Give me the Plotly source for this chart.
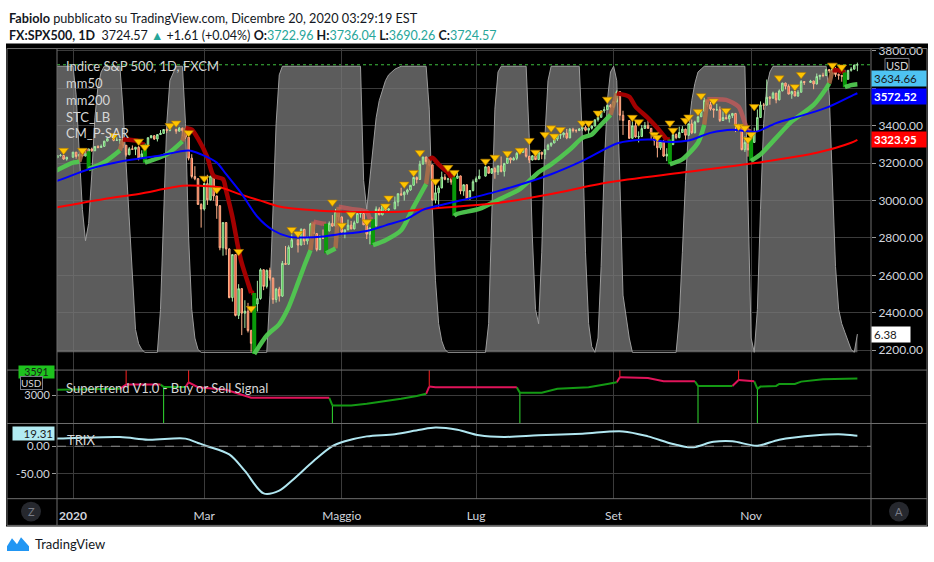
import pandas as pd
import plotly.graph_objects as go

W, H = 934, 562
def px(x): return x / W
def py(y): return 1 - y / H

# ---------------- DATA ----------------
HOLIDAYS = ["2020-01-01", "2020-01-20", "2020-02-17", "2020-04-10", "2020-05-25",
            "2020-07-03", "2020-09-07", "2020-11-26"]
dates = [d for d in pd.bdate_range("2019-12-26", "2020-12-18")
         if d.strftime("%Y-%m-%d") not in HOLIDAYS]

open_ = [3228, 3240, 3240, 3221,
 3231, 3258, 3235, 3246, 3237, 3253, 3275, 3265, 3288, 3283, 3289, 3317, 3330, 3321, 3322, 3326, 3295, 3244, 3276, 3273, 3284,
 3226, 3249, 3298, 3335, 3346, 3328, 3352, 3358, 3379, 3374, 3380, 3370, 3386, 3373, 3338, 3226, 3128, 3116, 2979,
 2954, 3090, 3003, 3130, 3024, 2972, 2747, 2882, 2741, 2481, 2711, 2386, 2529, 2398, 2409, 2305, 2237, 2447, 2476, 2630, 2541, 2627,
 2585, 2471, 2527, 2489, 2664, 2659, 2750, 2790, 2762, 2846, 2783, 2800, 2875, 2823, 2737, 2799, 2798, 2837, 2878, 2863, 2940,
 2912, 2831, 2843, 2868, 2848, 2881, 2930, 2930, 2870, 2820, 2853, 2864, 2954, 2923, 2972, 2949, 2955, 2992, 3036, 3030,
 3044, 3056, 3081, 3123, 3112, 3194, 3232, 3207, 3190, 3002, 3041, 3067, 3125, 3113, 3115, 3098, 3118, 3131, 3050, 3084, 3009, 3053,
 3100, 3116, 3130, 3180, 3145, 3170, 3152, 3185, 3155, 3198, 3227, 3216, 3225, 3252, 3257, 3276, 3236, 3216, 3239, 3218, 3258, 3246,
 3271, 3295, 3307, 3328, 3349, 3351, 3360, 3334, 3380, 3373, 3373, 3382, 3390, 3375, 3386, 3397, 3431, 3444, 3479, 3485, 3508,
 3500, 3527, 3581, 3455, 3427, 3332, 3399, 3339, 3341, 3384, 3401, 3385, 3357, 3319, 3281, 3316, 3237, 3247, 3298, 3352, 3335,
 3363, 3381, 3348, 3409, 3361, 3419, 3447, 3477, 3534, 3512, 3489, 3483, 3484, 3427, 3443, 3436, 3453, 3465, 3401, 3391, 3271, 3310,
 3270, 3310, 3369, 3443, 3510, 3509, 3551, 3546, 3573, 3537, 3585, 3627, 3610, 3568, 3582, 3558, 3578, 3635, 3630, 3638,
 3622, 3662, 3669, 3667, 3699, 3692, 3702, 3673, 3668, 3663, 3647, 3695, 3701, 3722.96]

high = [3241, 3248, 3241, 3232,
 3259, 3258, 3247, 3248, 3267, 3276, 3282, 3289, 3295, 3299, 3317, 3330, 3331, 3337, 3327, 3337, 3296, 3285, 3294, 3286, 3290,
 3268, 3306, 3337, 3348, 3347, 3353, 3376, 3381, 3385, 3381, 3382, 3393, 3389, 3374, 3339, 3247, 3183, 3120, 2985,
 3091, 3137, 3131, 3132, 3026, 2975, 2882, 2885, 2745, 2711, 2714, 2553, 2532, 2467, 2453, 2310, 2449, 2571, 2638, 2632, 2631, 2641,
 2588, 2533, 2539, 2677, 2757, 2760, 2819, 2792, 2851, 2848, 2807, 2880, 2877, 2825, 2815, 2845, 2842, 2888, 2922, 2955, 2942,
 2914, 2844, 2898, 2891, 2892, 2933, 2945, 2945, 2875, 2855, 2865, 2968, 2964, 2981, 2978, 2957, 3021, 3037, 3068, 3049,
 3063, 3081, 3131, 3128, 3212, 3233, 3234, 3223, 3192, 3089, 3079, 3154, 3141, 3121, 3155, 3121, 3155, 3133, 3086, 3086, 3054, 3112,
 3128, 3165, 3183, 3184, 3171, 3180, 3186, 3235, 3199, 3238, 3228, 3233, 3258, 3278, 3280, 3281, 3238, 3242, 3243, 3264, 3259, 3272,
 3303, 3307, 3331, 3351, 3353, 3364, 3382, 3387, 3388, 3381, 3387, 3395, 3399, 3390, 3400, 3432, 3444, 3481, 3501, 3510, 3514,
 3528, 3588, 3583, 3479, 3430, 3425, 3426, 3369, 3403, 3419, 3428, 3387, 3362, 3320, 3321, 3324, 3279, 3306, 3361, 3358, 3394,
 3397, 3383, 3410, 3432, 3426, 3448, 3482, 3549, 3536, 3527, 3490, 3516, 3502, 3476, 3465, 3461, 3466, 3467, 3409, 3393, 3342, 3311,
 3330, 3389, 3486, 3529, 3521, 3646, 3558, 3581, 3575, 3593, 3628, 3629, 3620, 3586, 3584, 3589, 3643, 3638, 3644, 3640,
 3678, 3670, 3682, 3701, 3700, 3709, 3712, 3678, 3670, 3698, 3695, 3712, 3725, 3736.04]

low = [3227, 3234, 3217, 3213,
 3229, 3223, 3214, 3232, 3236, 3252, 3260, 3264, 3278, 3281, 3288, 3316, 3316, 3320, 3302, 3281, 3234, 3242, 3271, 3242, 3214,
 3222, 3248, 3297, 3332, 3323, 3315, 3350, 3357, 3361, 3369, 3356, 3369, 3342, 3329, 3214, 3118, 3108, 2977, 2855,
 2946, 2976, 3000, 2999, 2902, 2734, 2705, 2708, 2478, 2460, 2381, 2367, 2281, 2319, 2295, 2192, 2233, 2407, 2470, 2521, 2530, 2572,
 2448, 2455, 2460, 2485, 2657, 2655, 2748, 2722, 2760, 2762, 2765, 2798, 2821, 2728, 2735, 2795, 2794, 2835, 2860, 2861, 2892,
 2821, 2798, 2841, 2846, 2846, 2879, 2908, 2869, 2794, 2766, 2822, 2862, 2922, 2921, 2938, 2934, 2953, 2969, 3024, 2999,
 3031, 3052, 3080, 3091, 3110, 3192, 3193, 3181, 2999, 2984, 2966, 3065, 3108, 3094, 3084, 3081, 3116, 3033, 3025, 3005, 3003, 3048,
 3098, 3114, 3128, 3143, 3142, 3116, 3136, 3150, 3128, 3196, 3198, 3214, 3215, 3250, 3254, 3229, 3200, 3213, 3216, 3216, 3220, 3220,
 3270, 3286, 3306, 3318, 3329, 3336, 3327, 3333, 3363, 3362, 3371, 3370, 3369, 3354, 3379, 3396, 3421, 3443, 3468, 3484, 3494,
 3494, 3525, 3427, 3350, 3329, 3330, 3335, 3310, 3340, 3383, 3384, 3328, 3293, 3230, 3270, 3232, 3210, 3228, 3296, 3327, 3333,
 3362, 3324, 3346, 3354, 3359, 3418, 3446, 3476, 3500, 3480, 3442, 3482, 3419, 3425, 3433, 3416, 3440, 3365, 3388, 3268, 3259, 3234,
 3268, 3308, 3367, 3441, 3484, 3507, 3511, 3545, 3519, 3535, 3583, 3593, 3567, 3543, 3556, 3553, 3576, 3617, 3628, 3594,
 3620, 3645, 3658, 3665, 3680, 3678, 3660, 3645, 3634, 3645, 3645, 3688, 3700, 3690.26]

close = [3240, 3240, 3221, 3231,
 3258, 3235, 3246, 3237, 3253, 3275, 3265, 3288, 3283, 3289, 3317, 3330, 3321, 3322, 3326, 3295, 3244, 3276, 3273, 3284, 3226,
 3249, 3298, 3335, 3346, 3328, 3352, 3358, 3379, 3374, 3380, 3370, 3386, 3373, 3338, 3226, 3128, 3116, 2979, 2954,
 3090, 3003, 3130, 3024, 2972, 2747, 2882, 2741, 2481, 2711, 2386, 2529, 2398, 2409, 2305, 2237, 2447, 2476, 2630, 2541, 2627, 2585,
 2471, 2527, 2489, 2664, 2659, 2750, 2790, 2762, 2846, 2783, 2800, 2875, 2823, 2737, 2799, 2798, 2837, 2878, 2863, 2940, 2912,
 2831, 2843, 2868, 2848, 2881, 2930, 2930, 2870, 2820, 2853, 2864, 2954, 2923, 2972, 2949, 2955, 2992, 3036, 3030, 3044,
 3056, 3081, 3123, 3112, 3194, 3232, 3207, 3190, 3002, 3041, 3067, 3125, 3113, 3115, 3098, 3118, 3131, 3050, 3084, 3009, 3053, 3100,
 3116, 3130, 3180, 3145, 3170, 3152, 3185, 3155, 3198, 3227, 3216, 3225, 3252, 3257, 3276, 3236, 3216, 3239, 3218, 3258, 3246, 3271,
 3295, 3307, 3328, 3349, 3351, 3360, 3334, 3380, 3373, 3373, 3382, 3390, 3375, 3386, 3397, 3431, 3444, 3479, 3485, 3508, 3500,
 3527, 3581, 3455, 3427, 3332, 3399, 3339, 3341, 3384, 3401, 3385, 3357, 3319, 3281, 3316, 3237, 3247, 3298, 3352, 3335, 3363,
 3381, 3348, 3409, 3361, 3419, 3447, 3477, 3534, 3512, 3489, 3483, 3484, 3427, 3443, 3436, 3453, 3465, 3401, 3391, 3271, 3310, 3270,
 3310, 3369, 3443, 3510, 3509, 3551, 3546, 3573, 3537, 3585, 3627, 3610, 3568, 3582, 3558, 3578, 3635, 3630, 3638, 3622,
 3662, 3669, 3667, 3699, 3692, 3702, 3673, 3668, 3663, 3647, 3695, 3701, 3722.96, 3724.57]

assert len(open_) == len(high) == len(low) == len(close) == len(dates), \
    (len(open_), len(high), len(low), len(close), len(dates))

# mm50 (blue)
mm50_dates = ["2019-12-24", "2019-12-26", "2020-01-09", "2020-01-24", "2020-02-10", "2020-02-24", "2020-02-28",
              "2020-03-06", "2020-03-11", "2020-03-18", "2020-03-25", "2020-04-01", "2020-04-08", "2020-04-15",
              "2020-04-23", "2020-04-30", "2020-05-07", "2020-05-14", "2020-05-21", "2020-06-01", "2020-06-08",
              "2020-06-15", "2020-06-23", "2020-07-10", "2020-08-04", "2020-08-18", "2020-09-02", "2020-09-09",
              "2020-09-17", "2020-09-24", "2020-10-05", "2020-10-14", "2020-10-23", "2020-10-30", "2020-11-04",
              "2020-11-12", "2020-11-25", "2020-12-07", "2020-12-17", "2020-12-18"]
mm50_vals = [3100, 3105, 3167, 3211, 3237, 3267, 3246,
             3202, 3140, 3035, 2913, 2841, 2807, 2802,
             2807, 2820, 2827, 2841, 2867, 2903, 2950,
             2973, 2996, 3050, 3140, 3211, 3304, 3320,
             3325, 3313, 3320, 3361, 3378, 3369, 3369,
             3413, 3457, 3501, 3565, 3572.52]

# mm200 (red)
mm200_dates = ["2019-12-24", "2019-12-26", "2020-01-16", "2020-01-31", "2020-02-20", "2020-02-28", "2020-03-09",
               "2020-03-17", "2020-03-26", "2020-04-03", "2020-04-15", "2020-04-30", "2020-05-14", "2020-06-01",
               "2020-06-09", "2020-06-23", "2020-07-10", "2020-08-04", "2020-08-28", "2020-10-01", "2020-11-02",
               "2020-12-01", "2020-12-16", "2020-12-18"]
mm200_vals = [2960, 2964, 3008, 3035, 3078, 3078, 3070,
              3035, 2999, 2968, 2952, 2941, 2938, 2943,
              2955, 2968, 2987, 3035, 3096, 3149, 3197,
              3255, 3308, 3323.95]

# STC_LB oscillator (0-100)
stc_dates = ["2019-12-24", "2020-01-02", "2020-01-03", "2020-01-06", "2020-01-07", "2020-01-08", "2020-01-09",
             "2020-01-10", "2020-01-13", "2020-01-14", "2020-01-15", "2020-01-16", "2020-01-23", "2020-01-24",
             "2020-01-27", "2020-01-28", "2020-01-29", "2020-01-30", "2020-01-31", "2020-02-03", "2020-02-04",
             "2020-02-10", "2020-02-11", "2020-02-12", "2020-02-13", "2020-02-14", "2020-02-18", "2020-02-20",
             "2020-02-21", "2020-02-24", "2020-02-25", "2020-02-26", "2020-02-27", "2020-02-28", "2020-03-30",
             "2020-03-31", "2020-04-01", "2020-04-02", "2020-04-03", "2020-04-06", "2020-05-11", "2020-05-12",
             "2020-05-13", "2020-05-14", "2020-05-15", "2020-05-18", "2020-05-19", "2020-05-20", "2020-05-21",
             "2020-05-22", "2020-05-26", "2020-05-28", "2020-06-09", "2020-06-10", "2020-06-11", "2020-06-12",
             "2020-06-15", "2020-06-16", "2020-06-17", "2020-06-18", "2020-07-06", "2020-07-07", "2020-07-08",
             "2020-07-09", "2020-07-10", "2020-07-13", "2020-07-23", "2020-07-24", "2020-07-27", "2020-07-28",
             "2020-07-29", "2020-07-30", "2020-07-31", "2020-08-03", "2020-08-04", "2020-08-17", "2020-08-18",
             "2020-08-19", "2020-08-20", "2020-08-21", "2020-08-24", "2020-08-25", "2020-08-26", "2020-08-27",
             "2020-08-28", "2020-08-31", "2020-09-01", "2020-09-02", "2020-09-03", "2020-09-04", "2020-09-08",
             "2020-09-09", "2020-09-29", "2020-09-30", "2020-10-01", "2020-10-02", "2020-10-05", "2020-10-06",
             "2020-10-07", "2020-10-08", "2020-10-09", "2020-10-12", "2020-10-29", "2020-10-30", "2020-11-02",
             "2020-11-03", "2020-11-04", "2020-11-05", "2020-11-06", "2020-11-09", "2020-11-10", "2020-11-11",
             "2020-12-04", "2020-12-07", "2020-12-08", "2020-12-09", "2020-12-10", "2020-12-11", "2020-12-14",
             "2020-12-15", "2020-12-16", "2020-12-17", "2020-12-18"]
stc_vals = [100, 100, 90, 70, 50, 39, 45,
            62, 82, 93, 98, 100, 100, 85,
            65, 45, 25, 8, 3, 1, 0,
            0, 15, 50, 80, 95, 100, 100,
            80, 40, 15, 5, 1, 0, 0,
            20, 50, 80, 97, 100, 100, 60,
            50, 60, 72, 82, 88, 92, 95,
            97, 99, 100, 100, 85, 50, 25,
            10, 4, 1, 0, 0, 10, 50,
            85, 98, 100, 100, 75, 40, 15,
            10, 35, 75, 95, 100, 100, 75,
            35, 10, 2, 0, 5, 30, 65,
            88, 98, 100, 95, 60, 20, 5,
            0, 0, 12, 35, 60, 78, 88,
            94, 98, 99, 100, 100, 50, 5,
            0, 15, 50, 80, 93, 98, 100,
            100, 90, 60, 30, 15, 10, 7,
            4, 1, 0, 6.38]

# CM_P-SAR thick line: g = green (below price), r = red (above), f = faded red, v = flip
sar_dates = ["2019-12-24", "2020-01-02", "2020-01-06",
             "2020-01-07", "2020-01-08",
             "2020-01-09", "2020-01-09",
             "2020-01-09", "2020-01-16", "2020-01-23",
             "2020-01-24", "2020-01-31", "2020-02-03",
             "2020-02-04", "2020-02-04",
             "2020-02-04", "2020-02-13", "2020-02-20",
             "2020-02-21", "2020-02-25", "2020-02-27", "2020-03-03", "2020-03-05", "2020-03-10", "2020-03-11",
             "2020-03-13", "2020-03-17", "2020-03-18", "2020-03-20", "2020-03-23",
             "2020-03-24", "2020-03-24",
             "2020-03-24", "2020-03-30", "2020-04-03", "2020-04-08", "2020-04-13", "2020-04-15", "2020-04-17",
             "2020-04-20", "2020-04-23",
             "2020-04-24", "2020-04-24",
             "2020-04-24", "2020-04-29",
             "2020-04-30", "2020-05-06", "2020-05-13", "2020-05-14",
             "2020-05-15", "2020-05-15",
             "2020-05-15", "2020-05-21", "2020-05-28", "2020-06-03", "2020-06-09",
             "2020-06-10", "2020-06-11", "2020-06-15", "2020-06-18", "2020-06-19",
             "2020-06-22", "2020-06-22",
             "2020-06-22", "2020-06-23", "2020-07-02", "2020-07-10", "2020-07-21", "2020-07-29", "2020-08-04",
             "2020-08-12", "2020-08-18", "2020-08-21", "2020-08-25", "2020-08-31",
             "2020-09-02", "2020-09-08", "2020-09-10", "2020-09-16", "2020-09-21", "2020-09-24",
             "2020-09-25", "2020-09-25",
             "2020-09-25", "2020-10-01", "2020-10-08", "2020-10-12",
             "2020-10-13", "2020-10-21", "2020-10-27", "2020-10-29", "2020-10-30",
             "2020-11-02", "2020-11-02",
             "2020-11-02", "2020-11-05", "2020-11-12", "2020-11-19", "2020-11-30", "2020-12-04", "2020-12-07",
             "2020-12-08", "2020-12-10", "2020-12-11",
             "2020-12-14", "2020-12-14",
             "2020-12-14", "2020-12-16", "2020-12-18"]
sar_vals = [3145, 3202, 3207,
            3263, 3263,
            3263, 3167,
            3167, 3204, 3267,
            3325, 3316, 3299,
            3299, 3202,
            3202, 3246, 3316,
            3387, 3378, 3330, 3230, 3131, 3114, 3052,
            2913, 2735, 2665, 2559, 2506,
            2506, 2180,
            2180, 2279, 2340, 2430, 2560, 2650, 2734,
            2887, 2876,
            2876, 2718,
            2718, 2744,
            2966, 2955, 2940, 2900,
            2900, 2762,
            2762, 2788, 2841, 2966, 3087,
            3220, 3228, 3193, 3149, 3124,
            3124, 2918,
            2918, 2929, 2955, 3003, 3061, 3151, 3193,
            3272, 3334, 3352, 3387, 3457,
            3572, 3554, 3501, 3440, 3387, 3325,
            3325, 3193,
            3193, 3220, 3308, 3404,
            3540, 3537, 3501, 3413, 3369,
            3369, 3211,
            3211, 3246, 3334, 3422, 3510, 3598, 3625,
            3695, 3695, 3686,
            3684, 3605,
            3605, 3616, 3620]
sar_style = ["g"] * 3 + ["f"] * 2 + ["v"] * 2 + ["g"] * 3 + ["r"] * 3 + ["v"] * 2 + ["g"] * 3 + \
            ["r"] * 12 + ["v"] * 2 + ["g"] * 7 + ["f"] * 2 + ["v"] * 2 + ["g"] * 2 + ["f"] * 4 + \
            ["v"] * 2 + ["g"] * 5 + ["r"] * 5 + ["v"] * 2 + ["g"] * 12 + ["r"] * 6 + ["v"] * 2 + \
            ["g"] * 4 + ["f"] * 5 + ["v"] * 2 + ["g"] * 7 + ["r"] * 3 + ["v"] * 2 + ["g"] * 3
assert len(sar_dates) == len(sar_vals) == len(sar_style), (len(sar_dates), len(sar_vals), len(sar_style))
sar_label_val = 3634.66

# CM_P-SAR signal triangles
tri_dates = ["2019-12-30", "2020-01-07", "2020-01-21", "2020-01-31", "2020-02-04", "2020-02-14", "2020-02-18",
             "2020-02-24", "2020-03-02", "2020-03-06", "2020-03-17", "2020-03-23", "2020-04-09", "2020-04-13",
             "2020-04-28", "2020-05-01", "2020-05-06", "2020-05-13", "2020-05-21", "2020-05-22", "2020-05-29",
             "2020-06-03", "2020-06-05", "2020-06-12", "2020-06-18", "2020-06-22", "2020-07-06", "2020-07-09",
             "2020-07-15", "2020-07-21", "2020-07-24", "2020-07-28", "2020-07-31", "2020-08-04", "2020-08-05",
             "2020-08-07", "2020-08-18", "2020-08-20", "2020-08-25", "2020-08-28", "2020-09-09", "2020-09-11",
             "2020-09-18", "2020-09-21", "2020-09-25", "2020-09-28", "2020-10-02", "2020-10-05", "2020-10-08",
             "2020-10-09", "2020-10-15", "2020-10-21", "2020-10-27", "2020-10-29", "2020-10-30", "2020-11-02",
             "2020-11-03", "2020-11-13", "2020-11-20", "2020-11-24", "2020-12-08", "2020-12-11"]
tri_vals = [3267, 3267, 3346, 3316, 3285, 3399, 3413,
            3361, 3118, 3057, 2727, 2423, 2844, 2823,
            2991, 2867, 2925, 2885, 2970, 3013, 3087,
            3149, 3255, 3102, 3176, 3149, 3209, 3230,
            3251, 3267, 3320, 3257, 3352, 3387, 3343,
            3378, 3413, 3413, 3466, 3540, 3443, 3419,
            3352, 3337, 3413, 3374, 3427, 3445, 3475,
            3559, 3531, 3480, 3395, 3387, 3325, 3352,
            3501, 3654, 3607, 3672, 3722, 3712]

# Supertrend V1.0 (u = up / green, d = down / red)
st_dates = ["2019-12-24", "2020-01-23",
            "2020-01-27", "2020-02-11",
            "2020-02-12", "2020-02-21",
            "2020-02-24", "2020-02-27", "2020-03-11", "2020-03-19", "2020-03-23", "2020-04-27",
            "2020-04-28", "2020-05-06", "2020-05-13", "2020-05-19", "2020-05-28", "2020-06-04", "2020-06-09",
            "2020-06-10", "2020-06-12", "2020-07-20",
            "2020-07-21", "2020-07-30", "2020-08-06", "2020-08-20", "2020-08-28", "2020-09-02",
            "2020-09-03", "2020-09-16", "2020-09-23", "2020-10-07",
            "2020-10-08", "2020-10-23",
            "2020-10-27", "2020-11-03",
            "2020-11-04", "2020-11-05", "2020-11-12", "2020-11-13", "2020-11-20", "2020-11-24", "2020-12-03",
            "2020-12-17", "2020-12-18"]
st_vals = [3191, 3226,
           3375, 3375,
           3295, 3295,
           3458, 3285, 3191, 2993, 2912, 2912,
           2644, 2644, 2704, 2763, 2878, 2972, 3052,
           3306, 3285, 3285,
           3086, 3086, 3226, 3285, 3400, 3458,
           3633, 3608, 3493, 3493,
           3330, 3330,
           3539, 3493,
           3226, 3306, 3330, 3400, 3400, 3481, 3560,
           3585, 3591]
st_dir = ["u"] * 2 + ["d"] * 2 + ["u"] * 2 + ["d"] * 6 + ["u"] * 7 + ["d"] * 3 + ["u"] * 6 + \
         ["d"] * 4 + ["u"] * 2 + ["d"] * 2 + ["u"] * 9
assert len(st_dates) == len(st_vals) == len(st_dir), (len(st_dates), len(st_vals), len(st_dir))

# TRIX
trix_dates = ["2019-12-24", "2019-12-26", "2020-01-23", "2020-02-05", "2020-02-21", "2020-02-27", "2020-03-03",
              "2020-03-12", "2020-03-19", "2020-03-27", "2020-04-03", "2020-04-09", "2020-04-20", "2020-04-28",
              "2020-05-04", "2020-05-13", "2020-05-26", "2020-06-05", "2020-06-12", "2020-06-23", "2020-07-02",
              "2020-07-14", "2020-07-29", "2020-08-18", "2020-09-04", "2020-09-16", "2020-09-28", "2020-10-06",
              "2020-10-15", "2020-10-23", "2020-11-04", "2020-11-13", "2020-12-01", "2020-12-10", "2020-12-17",
              "2020-12-18"]
trix_vals = [14, 13.9, 16.8, 12, 13.9, 6, 0,
             -15, -45, -86, -81, -63, -27, 0,
             9, 18, 22, 30, 34, 30, 20,
             17, 20, 23, 27, 18, 4, -2,
             8, 9, 1, 12, 20, 22, 19.6,
             19.31]

# axis ticks (3600.00 sits under the value labels in the reference, so it shows no text)
x_tickvals = ["2020-01-02", "2020-03-02", "2020-05-01", "2020-07-01", "2020-09-01", "2020-11-02"]
x_ticktext = ["<b>2020</b>", "Mar", "Maggio", "Lug", "Set", "Nov"]
price_ticks = [2200, 2400, 2600, 2800, 3000, 3200, 3400, 3600, 3800]
price_ticktext = ["2200.00", "2400.00", "2600.00", "2800.00", "3000.00", "3200.00", "3400.00", "", "3800.00"]

# ---------------- FIGURE ----------------
TXT = "#d1d4dc"
GRID = "#3b3b3b"
BORDER = "#6e6e6e"
FONT = "Lato"

fig = go.Figure()

# STC area (own 0-100 scale, behind price)
fig.add_trace(go.Scatter(x=stc_dates, y=stc_vals, xaxis="x", yaxis="y", mode="lines",
                         line=dict(color="#9c9c9c", width=1), fill="tozeroy",
                         fillcolor="rgba(118,118,118,0.78)", hoverinfo="skip"))

# candles
fig.add_trace(go.Candlestick(x=dates, open=open_, high=high, low=low, close=close,
                             xaxis="x", yaxis="y2", whiskerwidth=0,
                             increasing=dict(line=dict(color="#a6e8a6", width=1), fillcolor="#34b834"),
                             decreasing=dict(line=dict(color="#ffb08a", width=1), fillcolor="#e8432a"),
                             hoverinfo="skip"))

# SAR thick line
SAR_COL = {"g": "rgba(80,200,80,0.95)", "r": "#a30000", "f": "rgba(205,90,90,0.72)", "v": "#0a9a0a"}
runs = []
for d, v, s in zip(sar_dates, sar_vals, sar_style):
    if not runs or runs[-1]["s"] != s:
        runs.append({"s": s, "x": [], "y": []})
    runs[-1]["x"].append(d)
    runs[-1]["y"].append(v)
for a, b in zip(runs[:-1], runs[1:]):
    if (a["x"][-1], a["y"][-1]) != (b["x"][0], b["y"][0]):
        col = SAR_COL[a["s"]] if b["s"] == "v" else "rgba(175,110,70,0.85)"
        fig.add_trace(go.Scatter(x=[a["x"][-1], b["x"][0]], y=[a["y"][-1], b["y"][0]], xaxis="x", yaxis="y2",
                                 mode="lines", line=dict(color=col, width=4.5), hoverinfo="skip"))
for r in runs:
    fig.add_trace(go.Scatter(x=r["x"], y=r["y"], xaxis="x", yaxis="y2", mode="lines",
                             line=dict(color=SAR_COL[r["s"]], width=4 if r["s"] == "v" else 4.5,
                                       shape="spline" if len(r["x"]) > 2 else "linear", smoothing=0.7),
                             hoverinfo="skip"))

# moving averages
fig.add_trace(go.Scatter(x=mm200_dates, y=mm200_vals, xaxis="x", yaxis="y2", mode="lines",
                         line=dict(color="#ff0000", width=2, shape="spline", smoothing=0.8), hoverinfo="skip"))
fig.add_trace(go.Scatter(x=mm50_dates, y=mm50_vals, xaxis="x", yaxis="y2", mode="lines",
                         line=dict(color="#0000ff", width=2, shape="spline", smoothing=0.8), hoverinfo="skip"))

# triangles
fig.add_trace(go.Scatter(x=tri_dates, y=tri_vals, xaxis="x", yaxis="y2", mode="markers",
                         marker=dict(symbol="triangle-down", size=8.5, color="#ffc400",
                                     line=dict(color="#b07800", width=0.6)), hoverinfo="skip"))

# Supertrend pane
ST_RANGE = [2007.6, 3886.8]
ST_COL = {"u": "#149a14", "d": "#e0145a"}
st_runs = []
for d, v, s in zip(st_dates, st_vals, st_dir):
    if not st_runs or st_runs[-1]["s"] != s:
        st_runs.append({"s": s, "x": [], "y": []})
    st_runs[-1]["x"].append(d)
    st_runs[-1]["y"].append(v)
for a, b in zip(st_runs[:-1], st_runs[1:]):
    fig.add_trace(go.Scatter(x=[a["x"][-1], b["x"][0]], y=[a["y"][-1], b["y"][0]], xaxis="x2", yaxis="y3",
                             mode="lines", line=dict(color=ST_COL[b["s"]], width=2), hoverinfo="skip"))
    edge = ST_RANGE[1] if b["s"] == "d" else ST_RANGE[0]
    fig.add_trace(go.Scatter(x=[b["x"][0], b["x"][0]], y=[b["y"][0], edge], xaxis="x2", yaxis="y3",
                             mode="lines", line=dict(color="#ff2020" if b["s"] == "d" else "#30dd30", width=1),
                             hoverinfo="skip"))
for r in st_runs:
    fig.add_trace(go.Scatter(x=r["x"], y=r["y"], xaxis="x2", yaxis="y3", mode="lines",
                             line=dict(color=ST_COL[r["s"]], width=2), hoverinfo="skip"))

# TRIX pane
fig.add_trace(go.Scatter(x=trix_dates, y=trix_vals, xaxis="x3", yaxis="y4", mode="lines",
                         line=dict(color="#b0e6f0", width=2, shape="spline", smoothing=0.9), hoverinfo="skip"))

# ---------------- LAYOUT ----------------
XR = ["2019-12-25 21:07", "2020-12-24 08:38"]
RB = [dict(bounds=["sat", "mon"])]
xcommon = dict(type="date", range=XR, rangebreaks=RB, tickmode="array", tickvals=x_tickvals,
               ticktext=x_ticktext, showgrid=True, gridcolor=GRID, gridwidth=1, zeroline=False,
               showline=False, domain=[px(57), px(871)], fixedrange=True)

D_MAIN = [py(368), py(43)]
D_ST = [py(422), py(368)]
D_TRIX = [py(498), py(422)]

fig.update_layout(
    width=W, height=H, margin=dict(l=0, r=0, t=0, b=0),
    paper_bgcolor="white", plot_bgcolor="black", showlegend=False, hovermode=False,
    font=dict(family=FONT, color=TXT),
    xaxis=dict(**xcommon, anchor="y", showticklabels=False, rangeslider=dict(visible=False)),
    xaxis2=dict(**xcommon, anchor="y3", matches="x", showticklabels=False),
    xaxis3=dict(**xcommon, anchor="y4", matches="x", showticklabels=True, ticks="outside", ticklen=6,
                tickcolor="rgba(0,0,0,0)", tickfont=dict(family=FONT, size=12, color=TXT)),
    yaxis=dict(domain=D_MAIN, range=[-6.2, 106.2], visible=False, anchor="x", fixedrange=True),
    yaxis2=dict(overlaying="y", side="right", anchor="x", range=[2094.2, 3811.3], tickmode="array",
                tickvals=price_ticks, ticktext=price_ticktext, showgrid=True,
                gridcolor=GRID, zeroline=False, ticks="outside", ticklen=4, tickcolor="#9a9a9a",
                tickfont=dict(family=FONT, size=12, color=TXT), fixedrange=True),
    yaxis3=dict(domain=D_ST, range=ST_RANGE, side="left", anchor="x2", tickmode="array", tickvals=[3000],
                ticktext=["3000"], showgrid=True, gridcolor=GRID, zeroline=False, ticks="outside",
                ticklen=4, tickcolor="#9a9a9a", tickfont=dict(family=FONT, size=11, color=TXT), fixedrange=True),
    yaxis4=dict(domain=D_TRIX, range=[-95.7, 41.5], side="left", anchor="x3", tickmode="array",
                tickvals=[0, -50], ticktext=["0.00", "-50.00"], showgrid=True, gridcolor=GRID,
                zeroline=False, ticks="outside", ticklen=4, tickcolor="#9a9a9a",
                tickfont=dict(family=FONT, size=11.5, color=TXT), fixedrange=True),
)

shapes = []
shapes.append(dict(type="rect", xref="paper", yref="paper", x0=px(6), x1=px(928), y0=py(526), y1=py(38),
                   fillcolor="black", line=dict(width=0), layer="below"))
shapes.append(dict(type="line", xref="x domain", yref="y2", x0=0, x1=1, y0=close[-1], y1=close[-1],
                   line=dict(color="#3fbf3f", width=1, dash="dot"), layer="below"))
shapes.append(dict(type="line", xref="x3 domain", yref="y4", x0=0, x1=1, y0=0, y1=0,
                   line=dict(color="#8a8a8a", width=1, dash="dash")))
for yy in [43, 368, 422, 498, 525]:
    shapes.append(dict(type="line", xref="paper", yref="paper", x0=px(7), x1=px(927), y0=py(yy), y1=py(yy),
                       line=dict(color=BORDER, width=1)))
for xx in [7, 57, 871, 927]:
    shapes.append(dict(type="line", xref="paper", yref="paper", x0=px(xx), x1=px(xx), y0=py(525), y1=py(43),
                       line=dict(color=BORDER, width=1)))
for cx in [31, 899]:
    shapes.append(dict(type="circle", xref="paper", yref="paper", x0=px(cx - 10), x1=px(cx + 10),
                       y0=py(521), y1=py(501), fillcolor="#26282e", line=dict(width=0)))
shapes.append(dict(type="rect", xref="paper", yref="paper", x0=px(885), x1=px(909), y0=py(67), y1=py(53),
                   fillcolor="black", line=dict(color="#787b86", width=1)))
logo = [(7, 551), (7, 546), (12, 538), (17, 544), (21, 537), (29, 546), (29, 551)]
path = "M " + " L ".join(f"{px(a)} {py(b)}" for a, b in logo) + " Z"
shapes.append(dict(type="path", xref="paper", yref="paper", path=path, fillcolor="#2196f3",
                   line=dict(width=0)))
fig.update_layout(shapes=shapes)

ann = []
def text(x, y, s, size=13, color=TXT, xanchor="left", **kw):
    ann.append(dict(x=px(x), y=py(y), xref="paper", yref="paper", text=s, showarrow=False,
                    xanchor=xanchor, yanchor="middle", font=dict(family=FONT, size=size, color=color), **kw))

TEAL = "#26a69a"
text(7, 12, "<b>Fabiolo</b> pubblicato su TradingView.com, Dicembre 20, 2020 03:29:19 EST", 12.7, "#131722")
chg = close[-1] - close[-2]
pct = chg / close[-2] * 100
hdr = (f"<b>FX:SPX500, 1D</b>  {close[-1]:.2f} <span style='color:{TEAL}'>▲</span> +{chg:.2f} (+{pct:.2f}%) "
       f"<b>O:</b><span style='color:{TEAL}'>{open_[-1]:.2f}</span> "
       f"<b>H:</b><span style='color:{TEAL}'>{high[-1]:.2f}</span> "
       f"<b>L:</b><span style='color:{TEAL}'>{low[-1]:.2f}</span> "
       f"<b>C:</b><span style='color:{TEAL}'>{close[-1]:.2f}</span>")
text(7, 30, hdr, 12.5, "#131722")

for i, s in enumerate(["Indice S&P 500, 1D, FXCM", "mm50", "mm200", "STC_LB", "CM_P-SAR"]):
    text(64, 61 + i * 16.9, s, 13, "#d6d6d6")
text(64, 386, "Supertrend V1.0 - Buy or Sell Signal", 13, "#d6d6d6")
text(65, 439, "TRIX", 13, "#d6d6d6")

def rlabel(val, yref, s, bg, fg, width=50, bold=False, yshift=0):
    ann.append(dict(x=px(871), y=val, xref="paper", yref=yref, text=f"<b>{s}</b>" if bold else s,
                    showarrow=False, xanchor="left", yanchor="middle", align="left", width=width,
                    height=11, borderpad=2, bgcolor=bg, yshift=yshift,
                    font=dict(family=FONT, size=11.5, color=fg)))
rlabel(sar_label_val, "y2", f"{sar_label_val:.2f}", "#4ec3f2", "#1a1a1a", yshift=3)
rlabel(mm50_vals[-1], "y2", f"{mm50_vals[-1]:.2f}", "#0000ff", "white", bold=True, yshift=-3)
rlabel(mm200_vals[-1], "y2", f"{mm200_vals[-1]:.2f}", "#ff0000", "white", bold=True)
rlabel(stc_vals[-1], "y", f"{stc_vals[-1]:.2f}", "white", "#1a1a1a", width=34)

ann.append(dict(x=px(55), y=st_vals[-1], xref="paper", yref="y3", text=f"{st_vals[-1]}", showarrow=False,
                xanchor="right", yanchor="middle", width=33, height=10, borderpad=1, bgcolor="#1ec21e",
                yshift=6, font=dict(family=FONT, size=10.5, color="#1a1a1a")))
ann.append(dict(x=px(55), y=trix_vals[-1], xref="paper", yref="y4", text=f"{trix_vals[-1]:.2f}",
                showarrow=False, xanchor="right", yanchor="middle", align="right", width=39, height=11,
                borderpad=1, bgcolor="#b2ebf2", yshift=2, font=dict(family=FONT, size=11.5, color="#1a1a1a")))
text(897, 60, "USD", 11, "#d6d6d6", xanchor="center")
ann.append(dict(x=px(31), y=py(381), xref="paper", yref="paper", text="USD", showarrow=False,
                xanchor="center", yanchor="middle", bgcolor="black", bordercolor="#787b86", borderwidth=1,
                borderpad=0, font=dict(family=FONT, size=10, color="#d6d6d6")))
text(31, 511, "Z", 11, "#787b86", xanchor="center")
text(899, 511, "A", 11, "#787b86", xanchor="center")
text(33, 544, "TradingView", 13, "#131722")

fig.update_layout(annotations=ann)
fig.write_html("out.html", config={"displayModeBar": False, "staticPlot": True},
               post_script="document.body.style.margin='0';document.body.style.overflow='hidden';")
